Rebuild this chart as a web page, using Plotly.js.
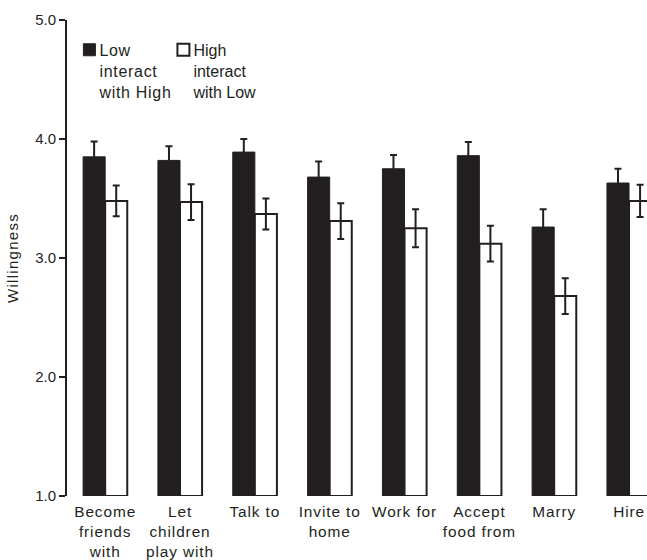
<!DOCTYPE html>
<html>
<head>
<meta charset="utf-8">
<script src="https://cdn.plot.ly/plotly-3.0.1.min.js"></script>
<style>
html,body{margin:0;padding:0;background:#fff;}
#chart .xtick text { letter-spacing: 0.9px; }
#chart .legendtext { letter-spacing: 0.7px; }
#chart .ytitle { letter-spacing: 1.3px; }
#chart .legendsymbols { transform: translateX(10px); }
</style>
</head>
<body>
<div id="chart" style="width:647px;height:560px;"></div>
<script>
const categories = ["Become<br>friends<br>with", "Let<br>children<br>play with", "Talk to", "Invite to<br>home", "Work for", "Accept<br>food from", "Marry", "Hire"];
const lowInteractHigh = [3.85, 3.82, 3.89, 3.68, 3.75, 3.86, 3.26, 3.63];
const lowInteractHighErr = [0.13, 0.12, 0.11, 0.13, 0.115, 0.115, 0.15, 0.12];
const highInteractLow = [3.48, 3.47, 3.37, 3.31, 3.25, 3.12, 2.68, 3.48];
const highInteractLowErr = [0.13, 0.15, 0.13, 0.15, 0.16, 0.15, 0.15, 0.135];
const yTickVals = [1, 2, 3, 4, 5];
const yTickText = ["1.0", "2.0", "3.0", "4.0", "5.0"];
const seriesNames = ["Low<br>interact<br>with High", "High<br>interact<br>with Low"];

const ink = '#231f20';
const baseline = 1;
const font = {family: 'Liberation Sans, Arial, sans-serif', color: ink};

const traces = [
  {
    type: 'bar', name: seriesNames[0], x: categories, legend: 'legend',
    y: lowInteractHigh.map(v => v - baseline), base: baseline,
    customdata: lowInteractHigh, hovertemplate: '%{customdata:.2f}<extra></extra>',
    marker: {color: ink, line: {color: ink, width: 1}},
    error_y: {type: 'data', array: lowInteractHighErr, visible: true, color: ink, thickness: 2, width: 3.5}
  },
  {
    type: 'bar', name: seriesNames[1], x: categories, legend: 'legend2',
    y: highInteractLow.map(v => v - baseline), base: baseline,
    customdata: highInteractLow, hovertemplate: '%{customdata:.2f}<extra></extra>',
    marker: {color: '#ffffff', line: {color: ink, width: 2}},
    error_y: {type: 'data', array: highInteractLowErr, visible: true, color: ink, thickness: 2, width: 3.5}
  }
];

const legendBase = {
  orientation: 'v', xanchor: 'left', y: 0.973, yanchor: 'top',
  valign: 'top',
  font: {family: font.family, size: 16, color: ink},
  bgcolor: 'rgba(0,0,0,0)', borderwidth: 0
};

const layout = {
  width: 647, height: 560,
  margin: {l: 67, r: 0, t: 20, b: 64, pad: 0},
  paper_bgcolor: '#fff', plot_bgcolor: '#fff',
  font: font,
  barmode: 'group', bargap: 0.41, bargroupgap: 0,
  showlegend: true,
  legend: Object.assign({}, legendBase, {x: -0.0131}),
  legend2: Object.assign({}, legendBase, {x: 0.149}),
  xaxis: {
    type: 'category', range: [-0.51, 7.24],
    showline: false, showgrid: false, zeroline: false, ticks: '',
    ticklabelstandoff: 5,
    tickfont: {family: font.family, size: 15.4, color: ink},
    fixedrange: true
  },
  yaxis: {
    range: [1, 5], tickvals: yTickVals, ticktext: yTickText,
    showline: true, linewidth: 2, linecolor: ink,
    ticks: 'outside', ticklen: 6, tickwidth: 2, tickcolor: ink,
    showgrid: false, zeroline: false,
    tickfont: {family: font.family, size: 15, color: ink},
    title: {text: 'Willingness', font: {family: font.family, size: 15, color: ink}, standoff: 13},
    fixedrange: true
  }
};

Plotly.newPlot('chart', traces, layout, {displayModeBar: false, staticPlot: true});
</script>
</body>
</html>
